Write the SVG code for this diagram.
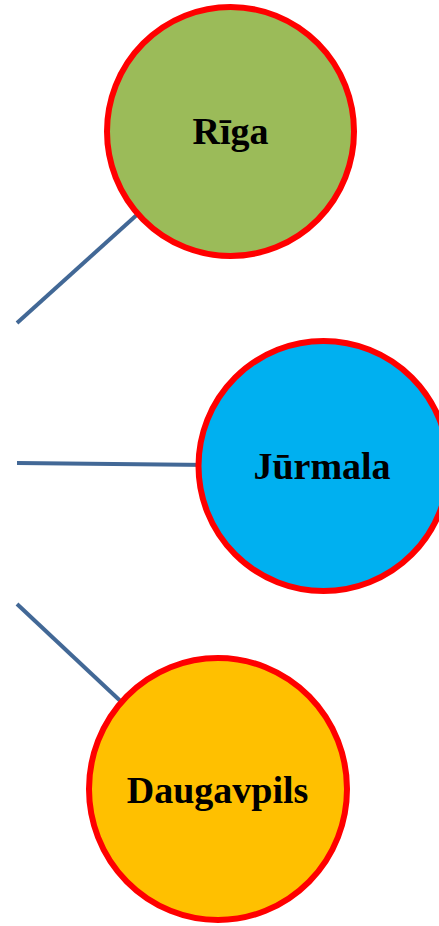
<svg xmlns="http://www.w3.org/2000/svg" width="439" height="926" viewBox="0 0 439 926">
<style>
.conn{stroke:#426896;stroke-width:4;fill:none}
.node{stroke:#FF0000;stroke-width:6}
.lbl{font-family:"Liberation Serif","Times New Roman",serif;font-weight:bold;font-size:38px;fill:#000;text-anchor:middle}
</style>
<rect width="439" height="926" fill="#fff"/>
<g id="connectors">
<line class="conn" x1="17" y1="323" x2="150" y2="203"/>
<line class="conn" x1="17" y1="463" x2="210" y2="465"/>
<line class="conn" x1="17" y1="604" x2="130" y2="710"/>
</g>
<g id="riga">
<ellipse class="node" cx="230.5" cy="131.5" rx="123.5" ry="124.5" fill="#9BBB59"/>
<text class="lbl" x="230.5" y="143.5">Rīga</text>
</g>
<g id="jurmala">
<ellipse class="node" cx="323.5" cy="466" rx="125" ry="125" fill="#00B0F0"/>
<text class="lbl" x="322" y="478.5">Jūrmala</text>
</g>
<g id="daugavpils">
<ellipse class="node" cx="218" cy="789" rx="129" ry="131" fill="#FFC000"/>
<text class="lbl" x="217.5" y="803">Daugavpils</text>
</g>
</svg>
